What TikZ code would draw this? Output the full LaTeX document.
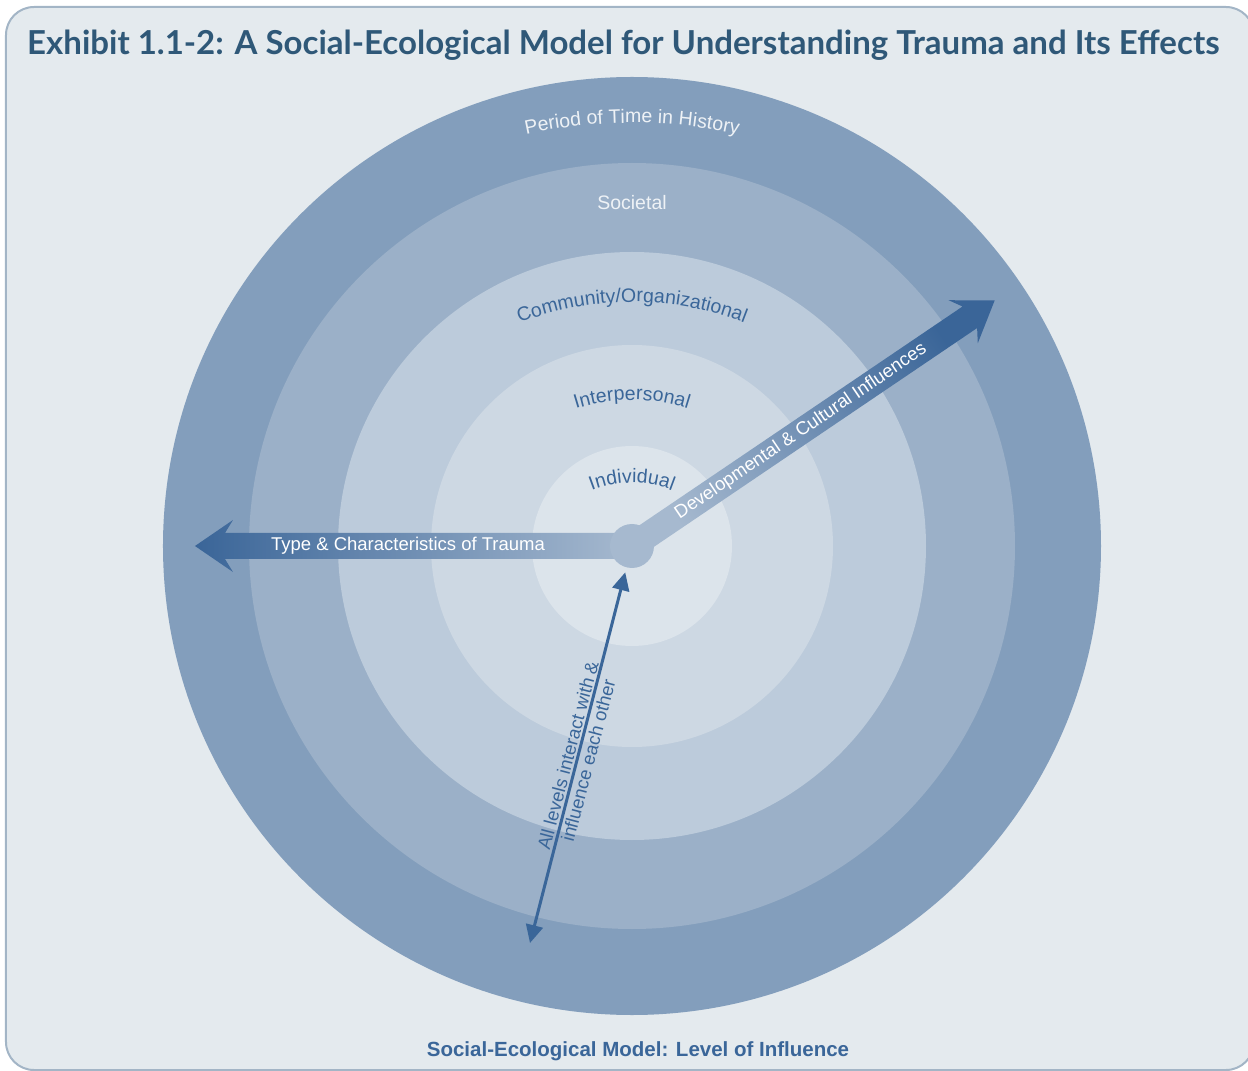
\documentclass[tikz,border=0pt]{standalone}
\usepackage{fontspec}
\setmainfont{Liberation Sans}
\newfontfamily\titlefont{Lato}
\usetikzlibrary{shapes.geometric, arrows.meta, positioning, decorations.text}

\definecolor{framefill}{HTML}{E4EAEE}
\definecolor{frameline}{HTML}{A3B5C6}
\definecolor{titleblue}{HTML}{2F5878}
\definecolor{ringA}{HTML}{839EBC}
\definecolor{ringB}{HTML}{9BB0C8}
\definecolor{ringC}{HTML}{BCCBDB}
\definecolor{ringD}{HTML}{CDD8E3}
\definecolor{ringE}{HTML}{DCE4EB}
\definecolor{arrowdark}{HTML}{3A6598}
\definecolor{arrowlight}{HTML}{A6B9CF}
\definecolor{labelblue}{HTML}{3A6699}
\definecolor{labelwhite}{HTML}{EEF2F6}

\begin{document}
\begin{tikzpicture}[x=1pt, y=1pt,
  frame/.style={draw=frameline, line width=2pt, fill=framefill, rounded corners=28pt},
  titletext/.style={font=\titlefont\bfseries\fontsize{33}{38}\selectfont, text=titleblue, inner sep=0pt},
  ring/.style={circle, minimum size=#1pt, inner sep=0pt, draw=none},
  ringlabel/.style 2 args={decorate, decoration={text along path, text align=center, text={|\fontsize{19.5}{20}\selectfont\color{#1}|#2}}},
  ringtext/.style={font=\fontsize{19.5}{20}\selectfont, inner sep=0pt},
  hubdot/.style={circle, fill=arrowlight, minimum size=44pt, inner sep=0pt},
  arrowtext/.style={font=\fontsize{18.5}{20}\selectfont, text=white, inner sep=0pt},
  levels/.style={draw=labelblue, line width=3pt, {Triangle[length=18pt,width=17pt]}-{Triangle[length=18pt,width=17pt]}, shorten >=5pt},
  levelstext/.style={font=\fontsize{18.5}{21}\selectfont, text=labelblue, align=center, inner sep=0pt},
  caption/.style={font=\bfseries\fontsize{20.5}{24}\selectfont, text=labelblue}]

  \useasboundingbox (-632,-525) rectangle (616,546);
  \draw[frame] (-626,539) rectangle (622,-524);

  % Title
  \node (title) [titletext, anchor=base west] at (-605,491) {Exhibit 1.1-2: A Social-Ecological Model for Understanding Trauma and Its Effects};

  % Rings
  \node (history) [ring=938, fill=ringA] at (0,0) {};
  \node (societal) [ring=766, fill=ringB] at (0,0) {};
  \node (community) [ring=588, fill=ringC] at (0,0) {};
  \node (interpersonal) [ring=402, fill=ringD] at (0,0) {};
  \node (individual) [ring=200, fill=ringE] at (0,0) {};

  % Ring labels
  \path[ringlabel={labelwhite}{Period of Time in History}] ([shift={(0,-77)}]150:500) arc[start angle=150, end angle=30, radius=500];
  \node (societalLabel) [ringtext, text=labelwhite, anchor=base] at (0,336) {Societal};
  \path[ringlabel={labelblue}{Community/Organizational}] ([shift={(0,-67)}]150:311) arc[start angle=150, end angle=30, radius=311];
  \path[ringlabel={labelblue}{Interpersonal}] ([shift={(0,-39)}]150:185) arc[start angle=150, end angle=30, radius=185];
  \path[ringlabel={labelblue}{Individual}] ([shift={(0,-47)}]160:110) arc[start angle=160, end angle=20, radius=110];

  % Big arrows
  \shade[left color=arrowdark, right color=arrowlight, rotate=180]
    (0,13) -- (407,13) -- (399,26) -- (437,0) -- (399,-26) -- (407,-13) -- (0,-13) -- cycle;
  \shade[top color=arrowdark, bottom color=arrowlight, shading angle=-56, rotate=34.1]
    (0,13) -- (408,13) -- (400,26) -- (438,0) -- (400,-26) -- (408,-13) -- (0,-13) -- cycle;
  \node (hub) [hubdot] at (0,0) {};

  \node (traumaText) [arrowtext] at (-224,0) {Type \& Characteristics of Trauma};
  \node (developText) [arrowtext, rotate=34.1] at (34.1:204) {Developmental \& Cultural Influences};

  % Levels arrow
  \coordinate (levelsEnd) at (-102,-397);
  \draw[levels] (levelsEnd) -- (hub);
  \node (levelsText) [levelstext, rotate=75.3] at (-54,-212) {All levels interact with \&\\ influence each other};

  % Caption
  \node (caption) [caption, below=23pt of history, xshift=6pt] {Social-Ecological Model: Level of Influence};
\end{tikzpicture}
\end{document}
